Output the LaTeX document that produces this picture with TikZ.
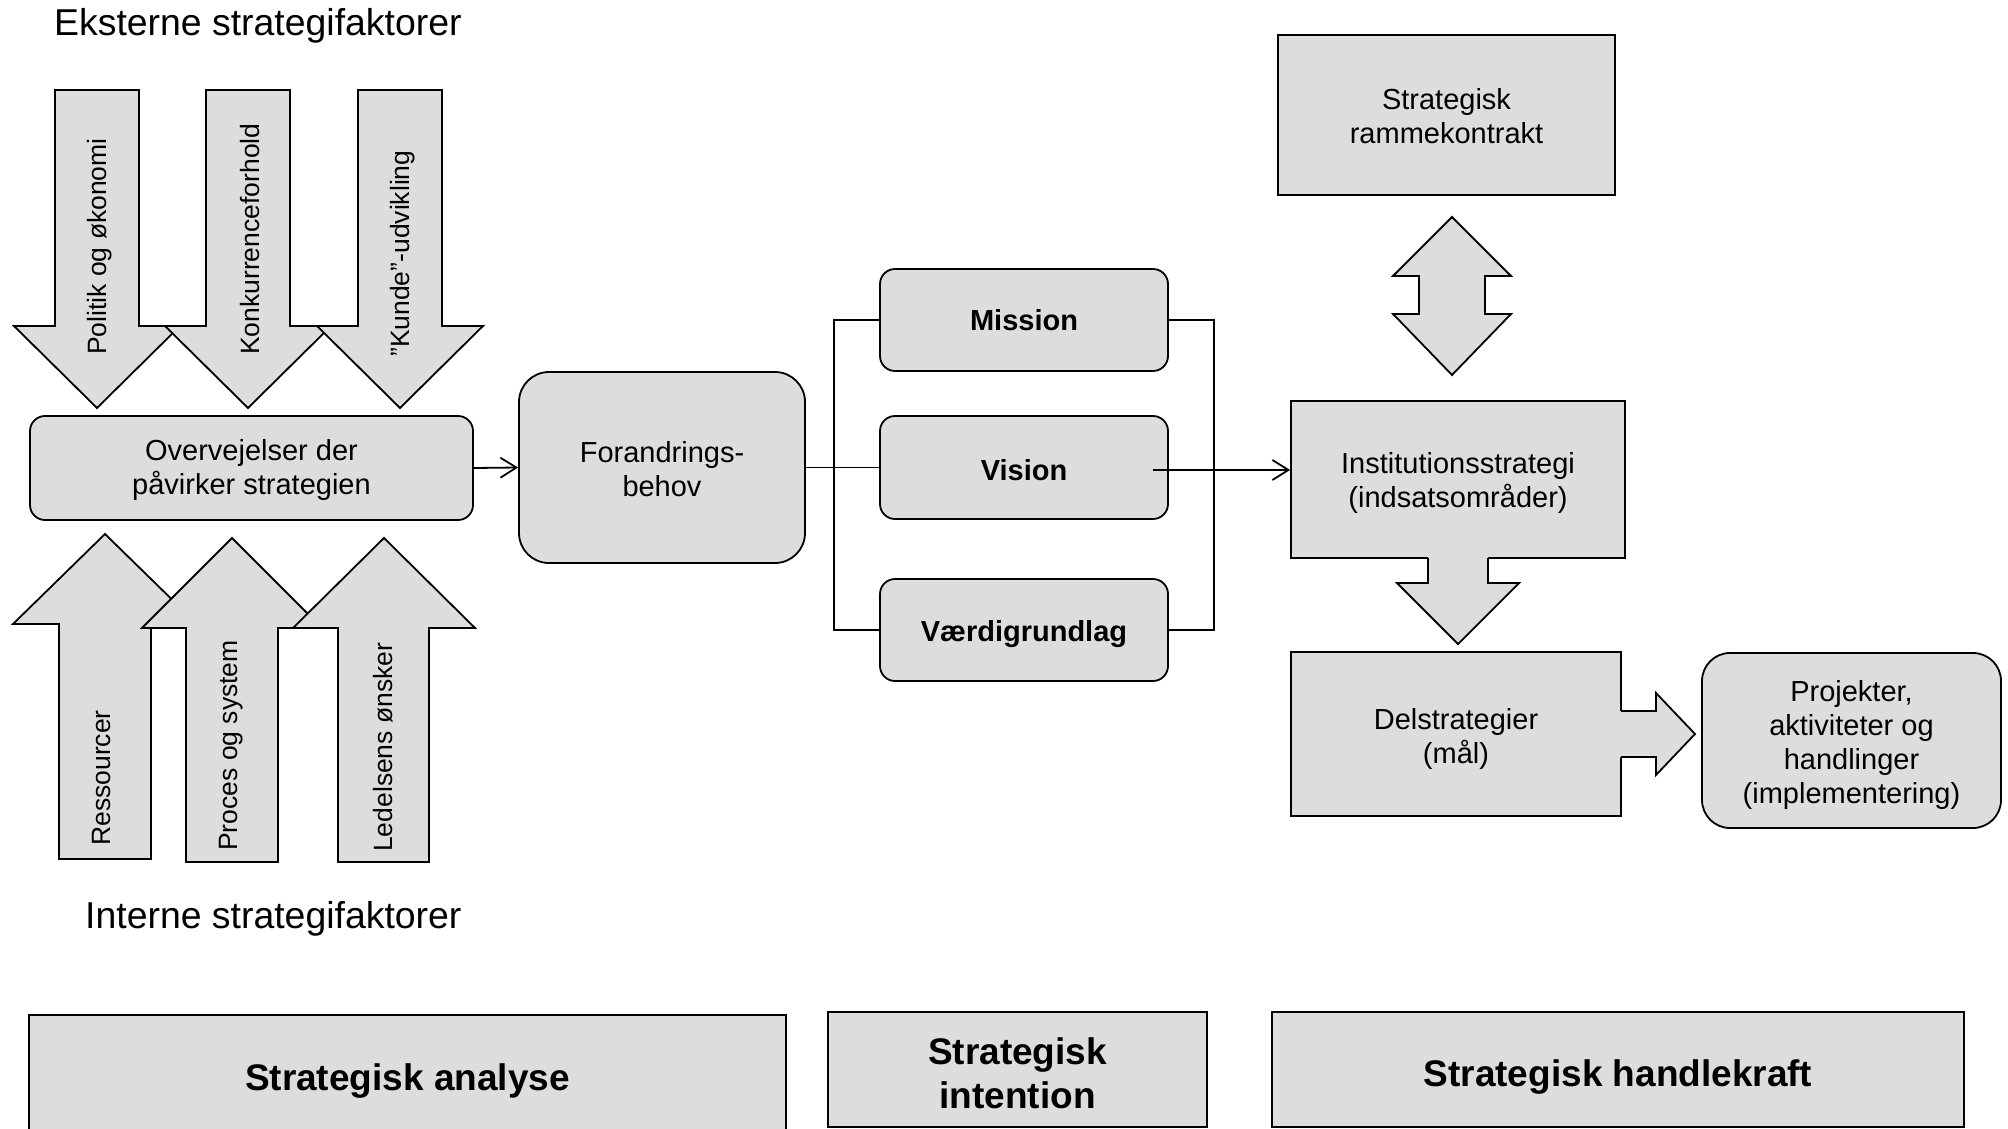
\documentclass[tikz,border=0pt]{standalone}
\usepackage{fontspec}
\setmainfont{Liberation Sans}
\usetikzlibrary{arrows.meta}
\definecolor{boxgray}{RGB}{221,221,221}
\newcommand\fsz[2]{\fontsize{#1}{#2}\selectfont}
\begin{document}
\begin{tikzpicture}[x=1pt,y=-1pt,
  lw/.style={line width=1.8pt},
  rbox/.style={draw, lw, fill=boxgray, inner sep=0pt, rounded corners=15pt},
  sbox/.style={draw, lw, fill=boxgray, inner sep=0pt},
  bbox/.style={draw, line width=2.2pt, fill=boxgray, inner sep=0pt},
  txt/.style={align=center, inner sep=0pt, font=\fsz{29}{34}},
  btxt/.style={align=center, inner sep=0pt, font=\bfseries\fsz{29}{33}},
  bigtxt/.style={align=center, inner sep=0pt, font=\bfseries\fsz{37}{44}},
  fshape/.style={draw, lw, fill=boxgray, line join=miter},
  vtext/.style={rotate=90, anchor=west, inner sep=0pt, font=\fsz{26.5}{30}},
  title/.style={anchor=west, inner sep=0pt, font=\fsz{37.4}{42}},
  conn/.style={lw, -{Straight Barb[length=16pt,width=20pt]}},
  plain/.style={lw}
]
\clip (0,0) rectangle (2008,1129);
\fill[white] (0,0) rectangle (2008,1129);

% titles
\node[title] (ext) at (54,26) {Eksterne strategifaktorer};
\node[title] (int) at (85,919) {Interne strategifaktorer};

% down arrows (external factors)
\foreach \cx in {97,248,400}{
  \draw[fshape] (\cx-42,90) -- (\cx+42,90) -- (\cx+42,326) -- (\cx+83,326) -- (\cx,408)
     -- (\cx-83,326) -- (\cx-42,326) -- cycle;
}
\node[vtext] (pol) at (100,355) {Politik og økonomi};
\node[vtext] (kon) at (250,355) {Konkurrenceforhold};
\node[vtext] (kun) at (403,357) {"Kunde"-udvikling};

% up arrows (internal factors)
\draw[fshape] (59,859) -- (151,859) -- (151,624) -- (197,624) -- (105,534) -- (13,624) -- (59,624) -- cycle;
\draw[fshape] (186,862) -- (278,862) -- (278,628) -- (322,628) -- (232,538) -- (142,628) -- (186,628) -- cycle;
\draw[fshape] (338,862) -- (429,862) -- (429,628) -- (475,628) -- (384,538) -- (293,628) -- (338,628) -- cycle;
\node[vtext] (res) at (102,846) {Ressourcer};
\node[vtext] (pro) at (231,851) {Proces og system};
\node[vtext] (led) at (383,852) {Ledelsens ønsker};

% main boxes
\node[rbox, minimum width=443pt, minimum height=104pt] (ove) at (251.5,468) {};
\node[txt] (ove-t) at (251.5,470) {Overvejelser der\\påvirker strategien};
\node[rbox, rounded corners=30pt, minimum width=286pt, minimum height=191pt] (for) at (662,467.5) {};
\node[txt] (for-t) at (662,469.5) {Forandrings-\\behov};
\node[rbox, minimum width=288pt, minimum height=102pt] (mis) at (1024,320) {};
\node[btxt] (mis-t) at (1024,320.5) {Mission};
\node[rbox, minimum width=288pt, minimum height=103pt] (vis) at (1024,467.5) {};
\node[btxt] (vis-t) at (1024,470) {Vision};
\node[rbox, minimum width=288pt, minimum height=102pt] (vae) at (1024,630) {};
\node[btxt] (vae-t) at (1024,634) {Værdigrundlag};

\node[sbox, minimum width=337pt, minimum height=160pt] (ram) at (1446.5,115) {};
\node[txt] (ram-t) at (1446.5,116.5) {Strategisk\\rammekontrakt};
\node[sbox, minimum width=334pt, minimum height=157pt] (ins) at (1458,479.5) {};
\node[txt] (ins-t) at (1458,482.5) {Institutionsstrategi\\(indsatsområder)};
\node[sbox, minimum width=330pt, minimum height=164pt] (del) at (1456,734) {};
\node[txt] (del-t) at (1456,739) {Delstrategier\\(mål)};
\node[rbox, rounded corners=28pt, minimum width=299pt, minimum height=175pt] (prj) at (1851.5,740.5) {};
\node[txt] (prj-t) at (1851.5,744.5) {Projekter,\\aktiviteter og\\handlinger\\(implementering)};

% block arrows on the right
\draw[fshape] (1452,217) -- (1511,276) -- (1485,276) -- (1485,314) -- (1511,314) -- (1452,375)
   -- (1393,314) -- (1419,314) -- (1419,276) -- (1393,276) -- cycle;
\fill[boxgray] (1428,557) -- (1428,583) -- (1397,583) -- (1458,644) -- (1519,583) -- (1488,583) -- (1488,557) -- cycle;
\draw[lw, line join=miter] (1428,558) -- (1428,583) -- (1397,583) -- (1458,644) -- (1519,583) -- (1488,583) -- (1488,558);
\fill[boxgray] (1620,711) -- (1656,711) -- (1656,693) -- (1695,734) -- (1656,775) -- (1656,757) -- (1620,757) -- cycle;
\draw[lw, line join=miter] (1621,711) -- (1656,711) -- (1656,693) -- (1695,734) -- (1656,775) -- (1656,757) -- (1621,757);

% connectors
\draw[conn] (ove.east) -- (for.west);
\draw[plain] (for.east) -- (vis.west);
\draw[plain] (mis.west) -- ++(-45,0) |- (vae.west);
\draw[plain] (mis.east) -- ++(45,0) |- (vae.east);
\coordinate (vstart) at (1153,470);
\draw[conn] (vstart) -- (vstart -| ins.west);

% bottom boxes
\node[bbox, minimum width=757pt, minimum height=124pt] (ana) at (407.5,1077) {};
\node[bigtxt] (ana-t) at (407.5,1081) {Strategisk analyse};
\node[bbox, minimum width=379pt, minimum height=115pt] (inte) at (1017.5,1069.5) {};
\node[bigtxt] (inte-t) at (1017.5,1073.5) {Strategisk\\intention};
\node[bbox, minimum width=692pt, minimum height=115pt] (han) at (1618,1069.5) {};
\node[bigtxt] (han-t) at (1618,1077) {Strategisk handlekraft};
\end{tikzpicture}
\end{document}
